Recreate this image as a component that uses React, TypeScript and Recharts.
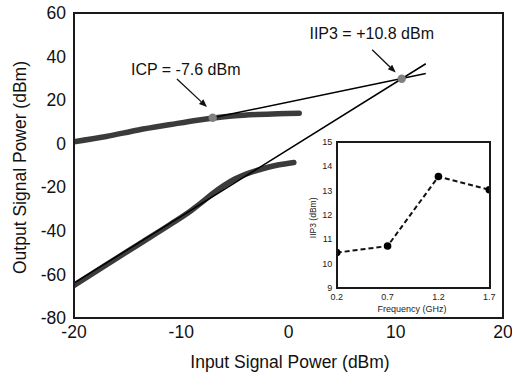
import React from 'react';
import {
  LineChart,
  Line,
  XAxis,
  YAxis,
  ReferenceDot,
  ReferenceLine,
} from 'recharts';

// ---------- main chart data ----------
const fundInput = [-20, -17, -14, -11, -8.5, -7, -5, -3, -1, 1];
const fundOutput = [0.9, 3.3, 6.3, 8.8, 10.8, 11.8, 12.8, 13.4, 13.8, 14.0];

const im3Input = [-20, -17, -14, -11, -9, -8, -7, -6, -5, -4, -3, -2, -1, 0.5];
const im3Output = [-65, -55.6, -46.3, -37, -30.4, -26.6, -22.6, -19.1, -16.2, -14.0, -12.3, -10.9, -9.8, -8.6];

const fundFitInput = [-7.07, 12.8];
const fundFitOutput = [11.9, 32.2];

const im3FitInput = [-20, 12.8];
const im3FitOutput = [-64.0, 36.7];

const icpPoint = { x: -7.07, y: 11.9 };
const iip3Point = { x: 10.56, y: 29.8 };

const xTicks = [-20, -10, 0, 10, 20];
const yTicks = [-80, -60, -40, -20, 0, 20, 40, 60];
const xDomain = [-20, 20];
const yDomain = [-80, 60];

// ---------- inset data ----------
const freqGHz = [0.2, 0.7, 1.2, 1.7];
const iip3dBm = [10.45, 10.72, 13.57, 13.03];
const insetYTicks = [9, 10, 11, 12, 13, 14, 15];
const insetXDomain = [0.2, 1.7];
const insetYDomain = [9, 15];

const zip = (xs: number[], ys: number[]) => xs.map((x, i) => ({ x, y: ys[i] }));

const fundData = zip(fundInput, fundOutput);
const im3Data = zip(im3Input, im3Output);
const fundFitData = zip(fundFitInput, fundFitOutput);
const im3FitData = zip(im3FitInput, im3FitOutput);
const insetData = zip(freqGHz, iip3dBm);

const FONT = '"Liberation Sans", Arial, Helvetica, sans-serif';

// chart geometry (layout only)
const MAIN = { w: 512, h: 375, top: 13, right: 9, yAxisW: 74, xAxisH: 57 };
const INSET = { left: 300, top: 135, w: 200, h: 185, mTop: 6.7, mRight: 10.7, yAxisW: 36.7, xAxisH: 32 };

const YTitle = (props: any) => {
  const vb = props.viewBox || { x: 0, y: 13, width: 74, height: 305 };
  const cx = vb.x + 20;
  const cy = vb.y + vb.height / 2 + 2;
  return (
    <text
      x={cx}
      y={cy}
      transform={`rotate(-90 ${cx} ${cy})`}
      textAnchor="middle"
      dominantBaseline="central"
      fontFamily={FONT}
      fontSize={17.5}
      fill="#111"
    >
      Output Signal Power (dBm)
    </text>
  );
};

const XTitle = (props: any) => {
  const vb = props.viewBox || { x: 74, y: 318, width: 429, height: 57 };
  const cx = vb.x + vb.width / 2 + 1.5;
  const cy = vb.y + 44;
  return (
    <text
      x={cx}
      y={cy}
      textAnchor="middle"
      dominantBaseline="central"
      fontFamily={FONT}
      fontSize={17.5}
      fill="#111"
    >
      Input Signal Power (dBm)
    </text>
  );
};

const InsetYTitle = (props: any) => {
  const vb = props.viewBox || { x: 0, y: 6.7, width: 36.7, height: 146.3 };
  const cx = vb.x + 13.3;
  const cy = vb.y + vb.height / 2 + 3;
  return (
    <text
      x={cx}
      y={cy}
      transform={`rotate(-90 ${cx} ${cy})`}
      textAnchor="middle"
      dominantBaseline="central"
      fontFamily={FONT}
      fontSize={8.5}
      fill="#222"
    >
      IIP3 (dBm)
    </text>
  );
};

const InsetXTitle = (props: any) => {
  const vb = props.viewBox || { x: 36.7, y: 153, width: 152.6, height: 32 };
  const cx = vb.x + vb.width / 2 - 1;
  const cy = vb.y + 20.5;
  return (
    <text
      x={cx}
      y={cy}
      textAnchor="middle"
      dominantBaseline="central"
      fontFamily={FONT}
      fontSize={9}
      fill="#222"
    >
      Frequency (GHz)
    </text>
  );
};

const MainXTick = (props: any) => {
  const { x, y, payload } = props;
  return (
    <text x={x} y={y} dy="0.71em" textAnchor="middle" fontFamily={FONT} fontSize={17.5} fill="#111">
      {payload.value}
    </text>
  );
};

const MainYTick = (props: any) => {
  const { x, y, payload } = props;
  return (
    <text x={x} y={y} dy="0.355em" textAnchor="end" fontFamily={FONT} fontSize={17.5} fill="#111">
      {payload.value}
    </text>
  );
};

const InsetXTick = (props: any) => {
  const { x, y, payload } = props;
  return (
    <text x={x} y={y} dy="0.71em" textAnchor="middle" fontFamily={FONT} fontSize={9} fill="#222">
      {Number(payload.value).toFixed(1)}
    </text>
  );
};

const Arrow = (props: any) => {
  const { x1, y1, x2, y2 } = props;
  if ([x1, y1, x2, y2].some((v) => typeof v !== 'number' || isNaN(v))) return null;
  const dx = x2 - x1;
  const dy = y2 - y1;
  const len = Math.sqrt(dx * dx + dy * dy) || 1;
  const ux = dx / len;
  const uy = dy / len;
  const head = 8;
  const half = 3.2;
  const bx = x2 - ux * head;
  const by = y2 - uy * head;
  const pts = `${x2},${y2} ${bx - uy * half},${by + ux * half} ${bx + uy * half},${by - ux * half}`;
  return (
    <g>
      <line x1={x1} y1={y1} x2={bx} y2={by} stroke="#111" strokeWidth={1.3} />
      <polygon points={pts} fill="#111" />
    </g>
  );
};

// Frame overlay boxes (plot-area borders)
const mainPlot = {
  left: MAIN.yAxisW,
  top: MAIN.top,
  right: MAIN.w - MAIN.right,
  bottom: MAIN.h - MAIN.xAxisH,
};
const insetPlot = {
  left: INSET.left + INSET.yAxisW,
  top: INSET.top + INSET.mTop,
  right: INSET.left + INSET.w - INSET.mRight,
  bottom: INSET.top + INSET.h - INSET.xAxisH,
};

const FrameBox = ({ p, bw }: { p: { left: number; top: number; right: number; bottom: number }; bw: number }) => (
  <div
    style={{
      position: 'absolute',
      left: Math.round(p.left - bw / 2),
      top: Math.round(p.top - bw / 2),
      width: Math.round(p.right - p.left + bw),
      height: Math.round(p.bottom - p.top + bw),
      border: `${bw}px solid #1a1a1a`,
      boxSizing: 'border-box',
      pointerEvents: 'none',
    }}
  />
);

export default function App() {
  return (
    <div
      style={{
        position: 'absolute',
        left: 0,
        top: 0,
        width: MAIN.w,
        height: MAIN.h,
        background: '#fff',
      }}
    >
      <LineChart
        width={MAIN.w}
        height={MAIN.h}
        margin={{ top: MAIN.top, right: MAIN.right, bottom: 0, left: 0 }}
        style={{ position: 'absolute', left: 0, top: 0 }}
      >
        <XAxis
          type="number"
          dataKey="x"
          domain={xDomain}
          ticks={xTicks}
          allowDataOverflow
          height={MAIN.xAxisH}
          axisLine={false}
          tickSize={0}
          tickMargin={8}
          tickLine={false}
          tick={<MainXTick />}
          label={<XTitle />}
        />
        <YAxis
          type="number"
          dataKey="y"
          domain={yDomain}
          ticks={yTicks}
          allowDataOverflow
          width={MAIN.yAxisW}
          axisLine={false}
          tickSize={0}
          tickMargin={8}
          tickLine={false}
          tick={<MainYTick />}
          label={<YTitle />}
        />
        <Line
          data={fundData}
          dataKey="y"
          type="monotone"
          stroke="#3b3b3b"
          strokeWidth={5.5}
          strokeLinecap="round"
          dot={false}
          activeDot={false}
          isAnimationActive={false}
        />
        <Line
          data={im3Data}
          dataKey="y"
          type="monotone"
          stroke="#3b3b3b"
          strokeWidth={5.5}
          strokeLinecap="round"
          dot={false}
          activeDot={false}
          isAnimationActive={false}
        />
        <Line
          data={fundFitData}
          dataKey="y"
          type="linear"
          stroke="#000"
          strokeWidth={1.5}
          dot={false}
          activeDot={false}
          isAnimationActive={false}
        />
        <Line
          data={im3FitData}
          dataKey="y"
          type="linear"
          stroke="#000"
          strokeWidth={1.5}
          dot={false}
          activeDot={false}
          isAnimationActive={false}
        />
        <ReferenceDot x={icpPoint.x} y={icpPoint.y} r={4.2} fill="#808080" stroke="none" />
        <ReferenceDot x={iip3Point.x} y={iip3Point.y} r={4.2} fill="#808080" stroke="none" />
        <ReferenceLine
          segment={[
            { x: -10.4, y: 29.7 },
            { x: -7.6, y: 16.8 },
          ]}
          stroke="#111"
          shape={Arrow}
        />
        <ReferenceLine
          segment={[
            { x: 7.8, y: 43.1 },
            { x: 10.0, y: 32.7 },
          ]}
          stroke="#111"
          shape={Arrow}
        />
        <ReferenceDot
          x={-9.58}
          y={34.3}
          r={0.01}
          fill="none"
          stroke="none"
          label={{ value: 'ICP = -7.6 dBm', position: 'center', fontFamily: FONT, fontSize: 16, fill: '#111' }}
        />
        <ReferenceDot
          x={7.76}
          y={50.7}
          r={0.01}
          fill="none"
          stroke="none"
          label={{ value: 'IIP3 = +10.8 dBm', position: 'center', fontFamily: FONT, fontSize: 16, fill: '#111' }}
        />
      </LineChart>

      <LineChart
        width={INSET.w}
        height={INSET.h}
        data={insetData}
        margin={{ top: INSET.mTop, right: INSET.mRight, bottom: 0, left: 0 }}
        style={{ position: 'absolute', left: INSET.left, top: INSET.top }}
      >
        <XAxis
          type="number"
          dataKey="x"
          domain={insetXDomain}
          ticks={freqGHz}
          allowDataOverflow
          height={INSET.xAxisH}
          axisLine={false}
          tickSize={0}
          tickMargin={6}
          tickLine={false}
          tick={<InsetXTick />}
          label={<InsetXTitle />}
        />
        <YAxis
          type="number"
          dataKey="y"
          domain={insetYDomain}
          ticks={insetYTicks}
          allowDataOverflow
          width={INSET.yAxisW}
          axisLine={false}
          tickSize={0}
          tickMargin={4.5}
          tickLine={false}
          tick={{ fontFamily: FONT, fontSize: 9, fill: '#222' }}
          label={<InsetYTitle />}
        />
        <Line
          dataKey="y"
          type="linear"
          stroke="#111"
          strokeWidth={2}
          strokeDasharray="5 3"
          dot={{ r: 3.8, fill: '#000', stroke: '#000', strokeWidth: 0, strokeDasharray: '' }}
          activeDot={false}
          isAnimationActive={false}
        />
      </LineChart>

      <FrameBox p={mainPlot} bw={2} />
      <FrameBox p={insetPlot} bw={2} />
    </div>
  );
}
